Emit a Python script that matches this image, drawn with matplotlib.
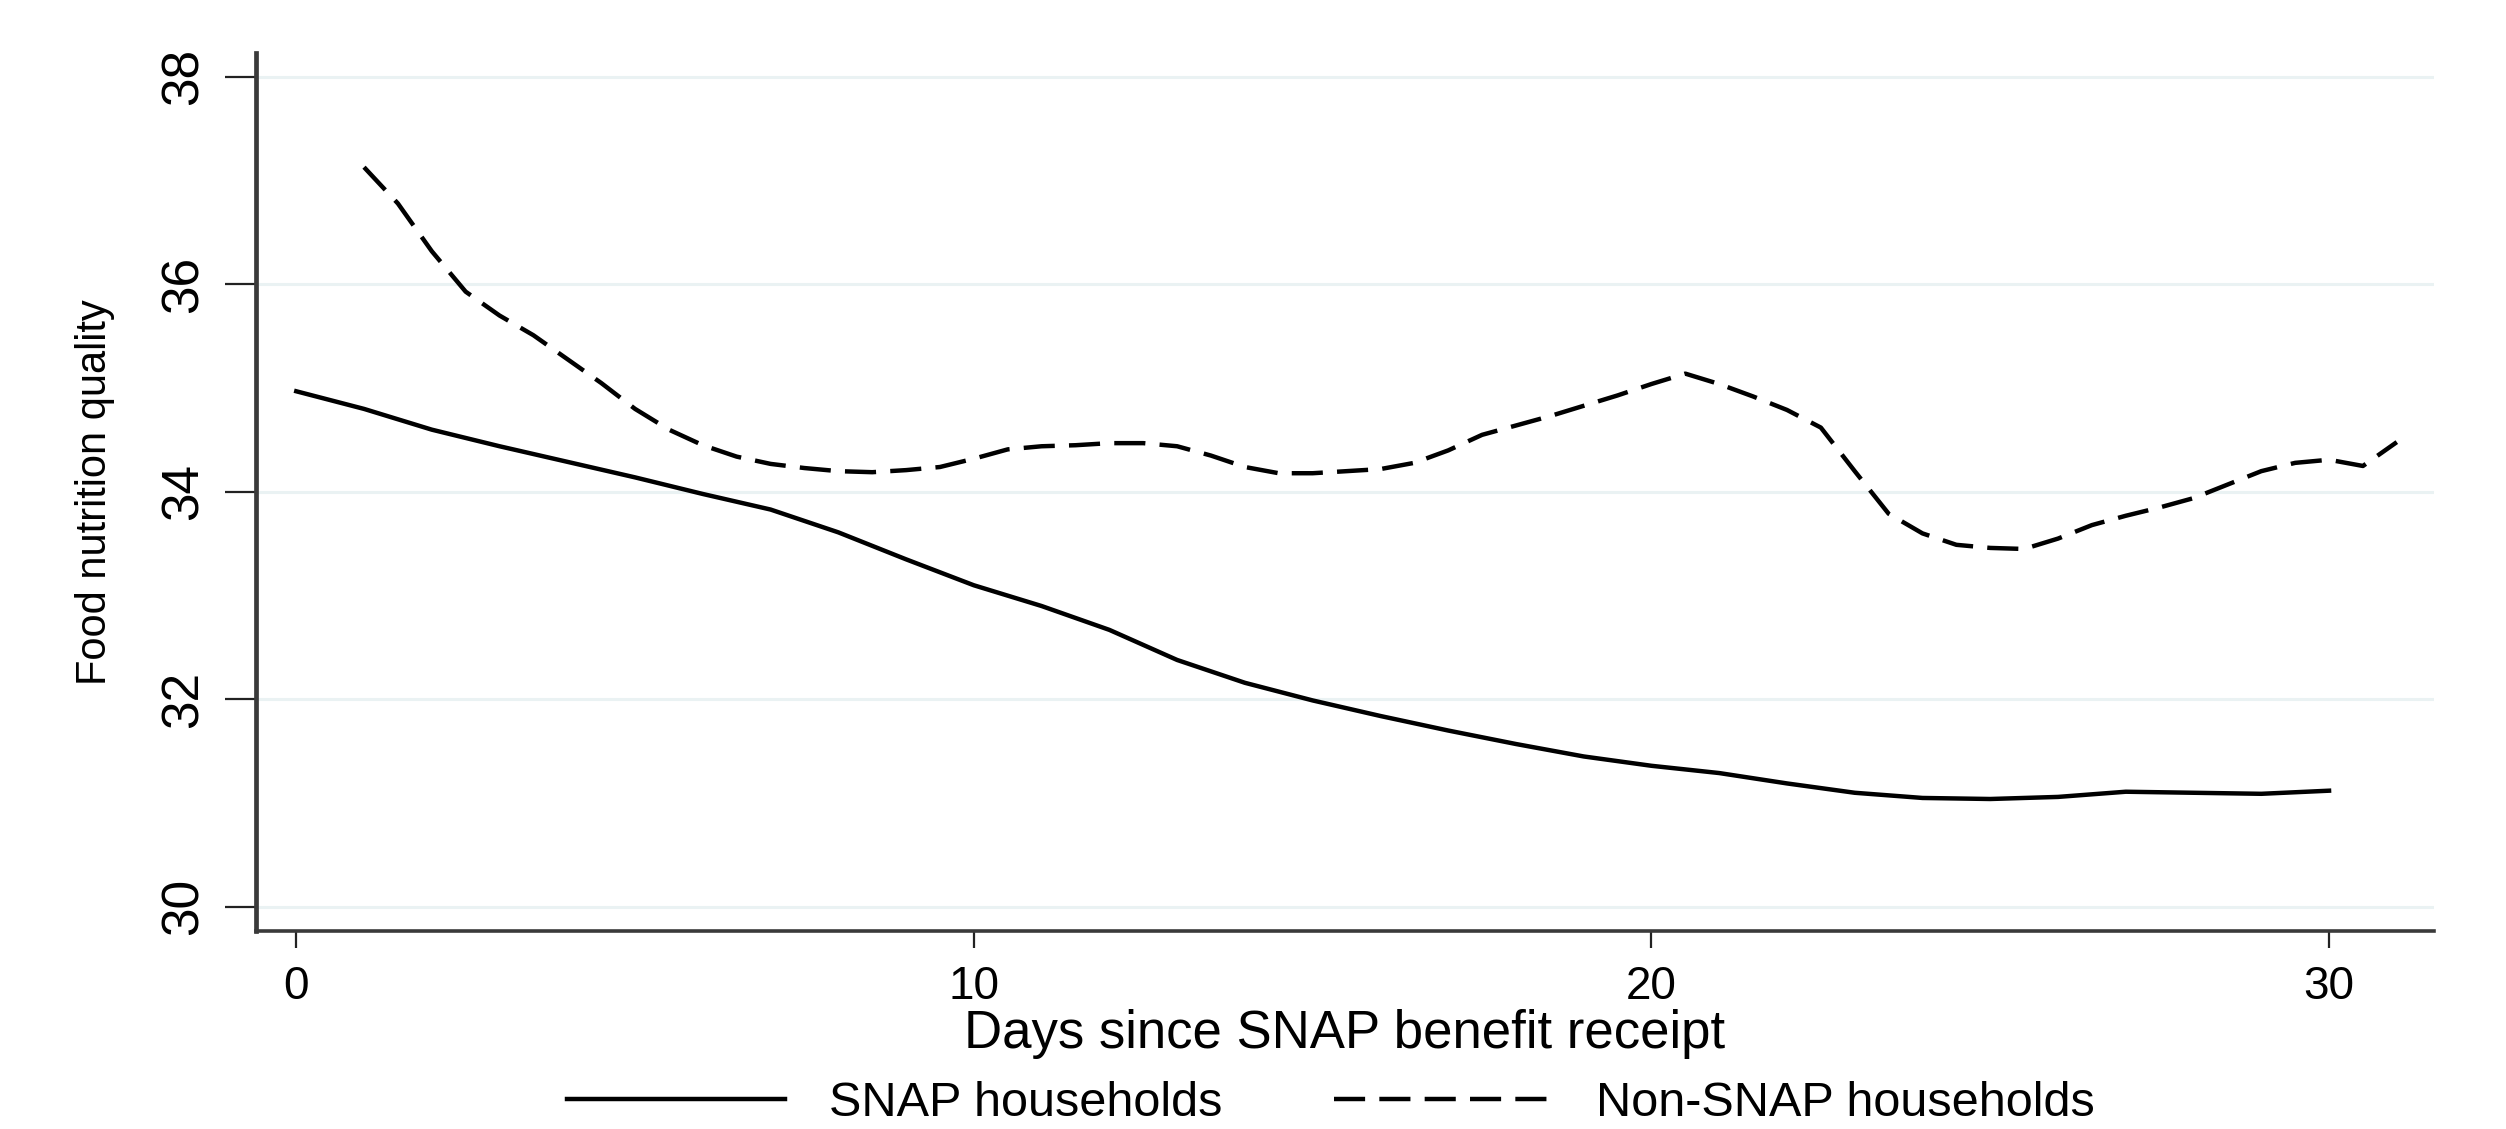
import matplotlib
matplotlib.use("Agg")
import matplotlib.pyplot as plt
from matplotlib.lines import Line2D

# SNAP households, daily
snap_days = list(range(0, 31))
snap_quality = [34.97, 34.80, 34.60, 34.44, 34.29, 34.14, 33.98, 33.83, 33.61, 33.35,
                33.10, 32.90, 32.67, 32.38, 32.16, 31.99, 31.84, 31.70, 31.57, 31.45,
                31.36, 31.29, 31.19, 31.10, 31.05, 31.04, 31.06, 31.11, 31.10, 31.09,
                31.12]

# Non-SNAP households, half-day steps
nonsnap_days = [1.0, 1.5, 2.0, 2.5, 3.0, 3.5, 4.0, 4.5, 5.0, 5.5, 6.0, 6.5, 7.0, 7.5,
                8.0, 8.5, 9.0, 9.5, 10.0, 10.5, 11.0, 11.5, 12.0, 12.5, 13.0, 13.5,
                14.0, 14.5, 15.0, 15.5, 16.0, 16.5, 17.0, 17.5, 18.0, 18.5, 19.0, 19.5,
                20.0, 20.5, 21.0, 21.5, 22.0, 22.5, 23.0, 23.5, 24.0, 24.5, 25.0, 25.5,
                26.0, 26.5, 27.0, 27.5, 28.0, 28.5, 29.0, 29.5, 30.0, 30.5, 31.0]
nonsnap_quality = [37.13, 36.78, 36.32, 35.93, 35.70, 35.51, 35.28, 35.05, 34.80, 34.60,
                   34.45, 34.34, 34.27, 34.23, 34.20, 34.19, 34.21, 34.24, 34.32, 34.41,
                   34.44, 34.45, 34.47, 34.47, 34.44, 34.35, 34.24, 34.18, 34.18, 34.20,
                   34.22, 34.28, 34.40, 34.55, 34.64, 34.73, 34.83, 34.93, 35.04, 35.14,
                   35.04, 34.92, 34.79, 34.62, 34.20, 33.79, 33.60, 33.49, 33.46, 33.45,
                   33.55, 33.68, 33.77, 33.85, 33.94, 34.07, 34.20, 34.28, 34.31, 34.25,
                   34.48]

xticks = [0, 10, 20, 30]
yticks = [30, 32, 34, 36, 38]
labels = ["SNAP households", "Non-SNAP households"]

plt.rcParams["font.family"] = ["Liberation Sans", "DejaVu Sans"]

fig = plt.figure(figsize=(25.06, 11.29), dpi=100)
ax = fig.add_axes([0.102, 0.1756, 0.8693, 0.7774])

ax.plot(snap_days, snap_quality, color="black", lw=3.2, solid_joinstyle="round")
ax.plot(nonsnap_days, nonsnap_quality, color="black", lw=3.2, dashes=(7, 3.2))

ax.set_xlim(-0.6, 31.55)
ax.set_ylim(29.77, 38.23)
ax.set_xticks(xticks)
ax.set_yticks(yticks)
ax.grid(axis="y", color="#eaf2f3", lw=2.2)
ax.set_axisbelow(True)

for s in ["top", "right"]:
    ax.spines[s].set_visible(False)
ax.spines["left"].set_linewidth(3.4)
ax.spines["bottom"].set_linewidth(2.6)
ax.spines["left"].set_color("#3a3a3a")
ax.spines["bottom"].set_color("#3a3a3a")

ax.tick_params(axis="y", length=22, width=1.6, pad=12, color="#222222")
ax.tick_params(axis="x", length=12, width=1.6, pad=13, color="#222222", labelsize=33)
for t in ax.get_yticklabels():
    t.set_rotation(90)
    t.set_va("center")
    t.set_fontsize(37)

ax.set_ylabel("Food nutrition quality", fontsize=30)
ax.yaxis.set_label_coords(-0.0647, 0.5)
ax.set_xlabel("Days since SNAP benefit receipt", fontsize=38, va="baseline")
ax.xaxis.set_label_coords(0.5, -0.134)

# legend: dashed sample ends on a full dash
handles = [Line2D([], [], color="black", lw=3.2),
           Line2D([], [], color="black", lw=3.2, dashes=(7, 3.2))]
fig.legend(handles, labels, loc="center", bbox_to_anchor=(0.531, 1 - 1104 / 1129),
           ncol=2, frameon=False, fontsize=35, handlelength=4.49,
           handletextpad=0.9, columnspacing=2.3)

fig.savefig("out.png", dpi=100, facecolor="white")
